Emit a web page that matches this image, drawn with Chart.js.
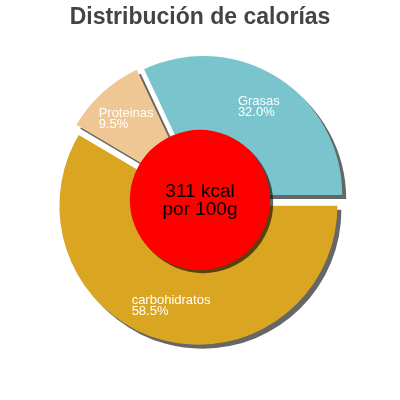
<!DOCTYPE html>
<html>
<head>
<meta charset="utf-8">
<script src="https://cdn.jsdelivr.net/npm/chart.js@4/dist/chart.umd.min.js"></script>
<style>
    html, body { margin: 0; padding: 0; background: #fff; }
    #wrap { width: 400px; height: 400px; }
</style>
</head>
<body>
<div id="wrap"><canvas id="kcal-chart" width="400" height="400"></canvas></div>
<script>
const labels = ['carbohidratos', 'Proteinas', 'Grasas'];
const percents = [58.5, 9.5, 32.0];
const colors = ['#daa520', '#efc794', '#7ac5cd'];
const centerLines = ['311 kcal', 'por 100g'];
const titleText = 'Distribución de calorías';

const FONT = "'Liberation Sans', Arial, sans-serif";
const EXPLODE = 6;

// Draw each slice pushed out along its middle angle, with a flat grey shadow
const explodePlugin = {
    id: 'explode',
    beforeDatasetDraw(chart, args) {
        const ctx = chart.ctx;
        args.meta.data.forEach(arc => {
            const mid = (arc.startAngle + arc.endAngle) / 2;
            ctx.save();
            ctx.translate(Math.cos(mid) * EXPLODE, Math.sin(mid) * EXPLODE);
            ctx.shadowColor = 'rgba(0,0,0,0.6)';
            ctx.shadowOffsetX = 4;
            ctx.shadowOffsetY = 4;
            ctx.shadowBlur = 0;
            arc.draw(ctx);
            ctx.restore();
        });
        return false;
    },
    afterDraw(chart) {
        const ctx = chart.ctx;
        const arcs = chart.getDatasetMeta(0).data;
        const cx = arcs[0].x;
        const cy = arcs[0].y;
        const r = arcs[0].outerRadius;

        // slice labels
        ctx.save();
        ctx.font = '13px ' + FONT;
        ctx.fillStyle = '#fff';
        ctx.textAlign = 'left';
        ctx.textBaseline = 'alphabetic';
        arcs.forEach((arc, i) => {
            const mid = (arc.startAngle + arc.endAngle) / 2;
            const px = cx + Math.cos(mid) * r * 0.79;
            const py = cy + Math.sin(mid) * r * 0.79;
            const lines = [labels[i], percents[i].toFixed(1) + '%'];
            const w = Math.max(...lines.map(l => ctx.measureText(l).width));
            ctx.fillText(lines[0], px - w / 2, py - 2);
            ctx.fillText(lines[1], px - w / 2, py + 9);
        });
        ctx.restore();

        // red centre disc
        ctx.save();
        ctx.shadowColor = 'rgba(0,0,0,0.6)';
        ctx.shadowOffsetX = 3;
        ctx.shadowOffsetY = 3;
        ctx.beginPath();
        ctx.arc(cx, cy, r * 0.505, 0, Math.PI * 2);
        ctx.fillStyle = '#ff0000';
        ctx.fill();
        ctx.restore();

        ctx.save();
        ctx.font = '19px ' + FONT;
        ctx.fillStyle = '#000';
        ctx.textAlign = 'center';
        ctx.fillText(centerLines[0], cx, cy - 3);
        ctx.fillText(centerLines[1], cx, cy + 15);
        ctx.restore();
    }
};

new Chart(document.getElementById('kcal-chart'), {
    type: 'pie',
    data: {
        labels: labels,
        datasets: [{
            data: percents,
            backgroundColor: colors,
            borderWidth: 0
        }]
    },
    options: {
        responsive: false,
        animation: false,
        rotation: 90,
        radius: 139,
        events: [],
        layout: { padding: { bottom: 57.6 } },
        plugins: {
            legend: { display: false },
            tooltip: { enabled: false },
            title: {
                display: true,
                text: titleText,
                color: '#444',
                font: { family: FONT, size: 23, weight: 'bold' },
                padding: { top: 4, bottom: 26 }
            }
        }
    },
    plugins: [explodePlugin]
});
</script>
</body>
</html>
